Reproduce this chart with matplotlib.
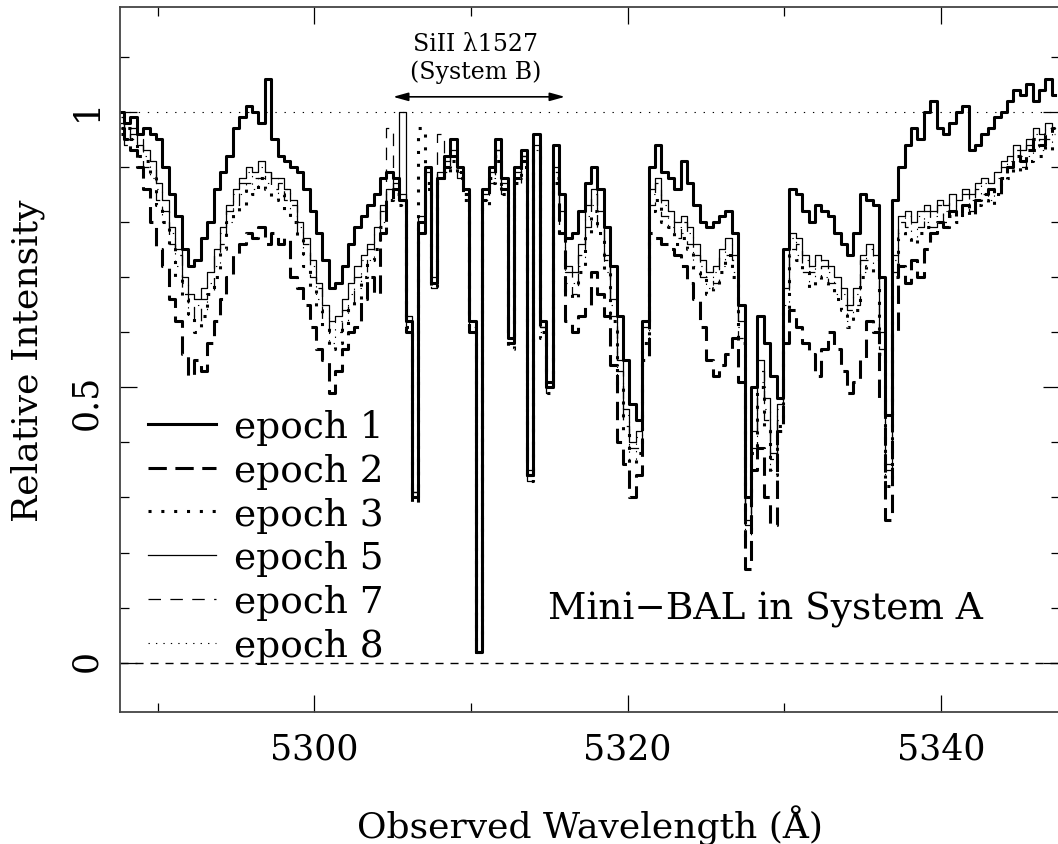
import numpy as np
import matplotlib
matplotlib.use('Agg')
import matplotlib.pyplot as plt
from matplotlib.ticker import MultipleLocator, FuncFormatter

plt.rcParams['font.family'] = ['DejaVu Serif']

# wavelength grid of the spectra (Angstrom)
lam0 = 5287.65
dlam = 0.4084

epoch1 = [
    1.00, 0.98, 0.99, 0.96, 0.97, 0.96, 0.95, 0.90, 0.85, 0.81,
    0.75, 0.72, 0.73, 0.77, 0.80, 0.86, 0.89, 0.92, 0.97, 0.99,
    1.01, 1.00, 0.98, 1.06, 0.95, 0.92, 0.91, 0.90, 0.89, 0.86,
    0.82, 0.78, 0.73, 0.68, 0.69, 0.72, 0.76, 0.79, 0.81, 0.83,
    0.85, 0.88, 0.89, 0.88, 0.84, 0.62, 0.30, 0.80, 0.90, 0.69,
    0.88, 0.92, 0.95, 0.90, 0.86, 0.62, 0.02, 0.86, 0.90, 0.95,
    0.88, 0.59, 0.90, 0.93, 0.34, 0.96, 0.62, 0.50, 0.94, 0.85,
    0.77, 0.78, 0.82, 0.87, 0.90, 0.86, 0.79, 0.72, 0.63, 0.55,
    0.47, 0.44, 0.62, 0.90, 0.94, 0.89, 0.88, 0.86, 0.91, 0.87,
    0.83, 0.80, 0.79, 0.80, 0.81, 0.82, 0.78, 0.65, 0.30, 0.50,
    0.63, 0.58, 0.52, 0.48, 0.75, 0.86, 0.85, 0.82, 0.80, 0.83,
    0.82, 0.81, 0.78, 0.76, 0.74, 0.78, 0.85, 0.84, 0.83, 0.70,
    0.45, 0.84, 0.90, 0.94, 0.97, 0.95, 1.00, 1.02, 0.97, 0.96,
    0.98, 1.00, 1.01, 0.93, 0.94, 0.96, 0.97, 0.99, 1.00, 1.02,
    1.04, 1.03, 1.05, 1.02, 1.04, 1.06, 1.03]

epoch2 = [
    0.97, 0.95, 0.93, 0.90, 0.86, 0.80, 0.75, 0.72, 0.66, 0.62,
    0.56, 0.52, 0.55, 0.53, 0.58, 0.62, 0.66, 0.70, 0.74, 0.76,
    0.78, 0.77, 0.79, 0.76, 0.78, 0.76, 0.77, 0.70, 0.68, 0.65,
    0.61, 0.57, 0.55, 0.49, 0.53, 0.57, 0.60, 0.61, 0.66, 0.70,
    0.67, 0.78, 0.84, 0.86, 0.84, 0.60, 0.29, 0.78, 0.86, 0.69,
    0.88, 0.90, 0.92, 0.89, 0.85, 0.60, 0.02, 0.84, 0.88, 0.92,
    0.86, 0.58, 0.88, 0.91, 0.34, 0.94, 0.60, 0.51, 0.88, 0.78,
    0.62, 0.60, 0.63, 0.65, 0.71, 0.67, 0.63, 0.54, 0.40, 0.36,
    0.30, 0.34, 0.55, 0.78, 0.77, 0.76, 0.75, 0.74, 0.72, 0.69,
    0.66, 0.61, 0.55, 0.52, 0.54, 0.56, 0.59, 0.51, 0.17, 0.35,
    0.39, 0.30, 0.25, 0.42, 0.58, 0.64, 0.61, 0.58, 0.56, 0.52,
    0.57, 0.60, 0.57, 0.53, 0.49, 0.51, 0.55, 0.62, 0.60, 0.48,
    0.26, 0.60, 0.72, 0.69, 0.73, 0.70, 0.75, 0.78, 0.80, 0.79,
    0.82, 0.81, 0.83, 0.82, 0.84, 0.85, 0.86, 0.85, 0.88, 0.90,
    0.92, 0.91, 0.93, 0.95, 0.94, 0.96, 0.97]

epoch3 = [
    0.96, 0.97, 0.95, 0.92, 0.91, 0.88, 0.83, 0.80, 0.75, 0.70,
    0.66, 0.63, 0.60, 0.63, 0.67, 0.70, 0.75, 0.80, 0.82, 0.83,
    0.86, 0.85, 0.88, 0.86, 0.84, 0.85, 0.82, 0.80, 0.77, 0.72,
    0.68, 0.64, 0.61, 0.57, 0.58, 0.61, 0.65, 0.66, 0.70, 0.73,
    0.75, 0.79, 0.84, 0.85, 0.83, 0.61, 0.30, 0.97, 0.87, 0.68,
    0.87, 0.89, 0.91, 0.88, 0.84, 0.60, 0.02, 0.83, 0.87, 0.91,
    0.85, 0.57, 0.87, 0.90, 0.33, 0.92, 0.59, 0.49, 0.87, 0.78,
    0.67, 0.66, 0.71, 0.77, 0.82, 0.78, 0.71, 0.62, 0.50, 0.42,
    0.36, 0.38, 0.58, 0.82, 0.84, 0.80, 0.79, 0.76, 0.77, 0.75,
    0.71, 0.70, 0.67, 0.68, 0.71, 0.74, 0.70, 0.58, 0.22, 0.38,
    0.50, 0.43, 0.34, 0.43, 0.64, 0.74, 0.73, 0.71, 0.68, 0.70,
    0.69, 0.68, 0.66, 0.64, 0.61, 0.64, 0.70, 0.72, 0.70, 0.56,
    0.32, 0.70, 0.77, 0.78, 0.76, 0.78, 0.79, 0.77, 0.80, 0.79,
    0.81, 0.80, 0.82, 0.81, 0.83, 0.84, 0.83, 0.85, 0.87, 0.88,
    0.90, 0.89, 0.91, 0.93, 0.92, 0.94, 0.93]

epoch5 = [
    0.98, 0.95, 0.97, 0.94, 0.93, 0.91, 0.87, 0.84, 0.79, 0.75,
    0.70, 0.67, 0.66, 0.68, 0.71, 0.75, 0.79, 0.83, 0.86, 0.88,
    0.90, 0.89, 0.91, 0.89, 0.88, 0.88, 0.86, 0.84, 0.80, 0.77,
    0.73, 0.69, 0.65, 0.62, 0.63, 0.66, 0.69, 0.72, 0.74, 0.76,
    0.79, 0.83, 0.86, 0.87, 1.00, 0.63, 0.31, 0.81, 0.89, 0.70,
    0.89, 0.91, 0.93, 0.90, 0.86, 0.62, 0.02, 0.85, 0.89, 0.93,
    0.87, 0.59, 0.89, 0.92, 0.35, 0.94, 0.61, 0.51, 0.90, 0.82,
    0.72, 0.71, 0.76, 0.83, 0.86, 0.82, 0.74, 0.66, 0.55, 0.46,
    0.40, 0.42, 0.62, 0.86, 0.88, 0.84, 0.82, 0.80, 0.81, 0.79,
    0.76, 0.73, 0.71, 0.72, 0.75, 0.77, 0.74, 0.62, 0.26, 0.42,
    0.55, 0.48, 0.38, 0.47, 0.68, 0.78, 0.77, 0.74, 0.72, 0.74,
    0.73, 0.72, 0.70, 0.68, 0.65, 0.68, 0.74, 0.76, 0.74, 0.60,
    0.36, 0.74, 0.81, 0.82, 0.80, 0.82, 0.83, 0.82, 0.84, 0.83,
    0.85, 0.84, 0.86, 0.85, 0.87, 0.88, 0.87, 0.89, 0.91, 0.92,
    0.94, 0.93, 0.95, 0.97, 0.96, 0.98, 0.97]

epoch7 = [
    0.99, 0.94, 0.96, 0.95, 0.90, 0.90, 0.84, 0.82, 0.76, 0.74,
    0.67, 0.65, 0.62, 0.66, 0.67, 0.74, 0.76, 0.82, 0.83, 0.87,
    0.87, 0.88, 0.88, 0.89, 0.86, 0.87, 0.84, 0.83, 0.77, 0.76,
    0.70, 0.68, 0.62, 0.60, 0.60, 0.64, 0.65, 0.70, 0.71, 0.75,
    0.76, 0.82, 0.97, 0.85, 0.85, 0.61, 0.31, 0.79, 0.89, 0.68,
    0.96, 0.89, 0.93, 0.88, 0.86, 0.60, 0.03, 0.85, 0.87, 0.93,
    0.85, 0.59, 0.87, 0.92, 0.33, 0.93, 0.61, 0.49, 0.89, 0.79,
    0.71, 0.67, 0.74, 0.79, 0.85, 0.79, 0.73, 0.63, 0.53, 0.43,
    0.39, 0.39, 0.61, 0.83, 0.87, 0.81, 0.81, 0.77, 0.80, 0.76,
    0.74, 0.70, 0.70, 0.69, 0.74, 0.74, 0.73, 0.59, 0.25, 0.39,
    0.53, 0.44, 0.37, 0.44, 0.67, 0.75, 0.76, 0.71, 0.71, 0.71,
    0.72, 0.69, 0.69, 0.65, 0.64, 0.65, 0.73, 0.73, 0.73, 0.57,
    0.35, 0.71, 0.80, 0.79, 0.79, 0.79, 0.82, 0.79, 0.83, 0.80,
    0.84, 0.81, 0.85, 0.82, 0.86, 0.85, 0.86, 0.86, 0.90, 0.89,
    0.93, 0.90, 0.94, 0.94, 0.95, 0.95, 0.96]

epoch8 = [
    0.97, 0.97, 0.95, 0.93, 0.92, 0.88, 0.86, 0.80, 0.78, 0.72,
    0.69, 0.63, 0.65, 0.64, 0.69, 0.72, 0.78, 0.80, 0.85, 0.85,
    0.89, 0.86, 0.90, 0.87, 0.88, 0.85, 0.86, 0.81, 0.79, 0.74,
    0.72, 0.66, 0.64, 0.58, 0.62, 0.62, 0.67, 0.68, 0.73, 0.73,
    0.78, 0.80, 0.86, 0.86, 0.83, 0.62, 0.30, 0.81, 0.88, 0.69,
    0.88, 0.91, 0.92, 0.89, 0.85, 0.61, 0.02, 0.84, 0.88, 0.92,
    0.86, 0.58, 0.88, 0.91, 0.34, 0.93, 0.60, 0.50, 0.88, 0.81,
    0.69, 0.69, 0.72, 0.81, 0.83, 0.81, 0.71, 0.65, 0.51, 0.45,
    0.37, 0.41, 0.59, 0.85, 0.85, 0.83, 0.79, 0.79, 0.78, 0.78,
    0.72, 0.72, 0.68, 0.71, 0.72, 0.76, 0.71, 0.61, 0.23, 0.41,
    0.51, 0.46, 0.35, 0.46, 0.65, 0.77, 0.74, 0.73, 0.69, 0.73,
    0.70, 0.71, 0.67, 0.67, 0.62, 0.67, 0.71, 0.75, 0.71, 0.59,
    0.33, 0.73, 0.78, 0.81, 0.77, 0.81, 0.80, 0.81, 0.81, 0.82,
    0.82, 0.83, 0.83, 0.84, 0.84, 0.87, 0.84, 0.88, 0.88, 0.91,
    0.91, 0.92, 0.92, 0.96, 0.93, 0.97, 0.94]

labels = ['epoch 1', 'epoch 2', 'epoch 3', 'epoch 5', 'epoch 7', 'epoch 8']
series = [epoch1, epoch2, epoch3, epoch5, epoch7, epoch8]
styles = [
    dict(lw=2.2, ls='-'),
    dict(lw=2.2, ls=(0, (6, 2.8))),
    dict(lw=2.2, ls=(0, (1, 3.2))),
    dict(lw=0.9, ls='-'),
    dict(lw=0.9, ls=(0, (10, 7.5))),
    dict(lw=0.8, ls=(0, (1.2, 5.5))),
]

wave = lam0 + dlam * np.arange(len(epoch1))

fig = plt.figure(figsize=(10.58, 8.45), dpi=100)
ax = fig.add_axes([120 / 1058, 1 - 713 / 845, 940 / 1058, 705 / 845])

ax.axhline(1, color='black', lw=0.8, ls=(0, (1.2, 7)))
ax.axhline(0, color='black', lw=1.0, ls=(0, (5.8, 5)))

for lab, vals, st in zip(labels, series, styles):
    ax.plot(wave, vals, drawstyle='steps-mid', color='black', label=lab, **st)

ax.set_xlim(5287.6, 5347.6)
ax.set_ylim(-0.0893, 1.19)

ax.xaxis.set_major_locator(MultipleLocator(20))
ax.xaxis.set_minor_locator(MultipleLocator(10))
ax.yaxis.set_major_locator(MultipleLocator(0.5))
ax.yaxis.set_minor_locator(MultipleLocator(0.1))
ax.yaxis.set_major_formatter(FuncFormatter(lambda v, p: '%g' % v))

ax.tick_params(which='both', direction='in', top=True, right=True,
               width=0.9, color='black')
ax.tick_params(which='major', length=12.2, labelsize=25)
ax.tick_params(which='minor', length=6.5)
ax.tick_params(axis='x', pad=14)
ax.tick_params(axis='y', pad=12, labelrotation=90)
for sp in ax.spines.values():
    sp.set_color('#444444')
    sp.set_linewidth(1.3)

ax.set_xlabel('Observed Wavelength (Å)', fontsize=26)
ax.xaxis.set_label_coords(0.5, -0.132)
ax.set_ylabel('Relative Intensity', fontsize=26)
ax.yaxis.set_label_coords(-0.08, 0.5)

ax.text(5310.3, 1.112, 'SiII λ1527', ha='center', va='baseline', fontsize=17)
ax.text(5310.3, 1.061, '(System B)', ha='center', va='baseline', fontsize=17)
ax.annotate('', xy=(5305.03, 1.027), xytext=(5316.0, 1.027),
            arrowprops=dict(arrowstyle='<|-|>,head_length=0.9,head_width=0.25',
                            color='black', lw=1.2, shrinkA=0, shrinkB=0))
ax.text(5314.9, 0.08, 'Mini\u2212BAL in System A', fontsize=27, va='baseline')

ax.legend(loc='upper left', bbox_to_anchor=(0.03, 0.430), frameon=False,
          fontsize=27, handlelength=1.8, handletextpad=0.5, labelspacing=0.21,
          borderpad=0, borderaxespad=0)

fig.savefig('out.png', dpi=100)
